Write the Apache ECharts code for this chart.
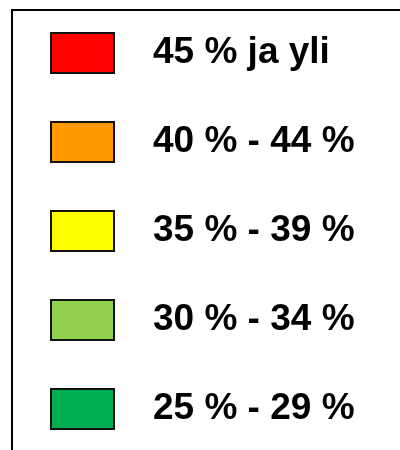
<!DOCTYPE html>
<html>
<head>
<meta charset="utf-8">
<script src="https://cdn.jsdelivr.net/npm/echarts@6/dist/echarts.min.js"></script>
<style>
  html, body { margin: 0; padding: 0; background: #fff; }
  #chart { width: 400px; height: 450px; }
</style>
</head>
<body>
<div id="chart"></div>
<script>
// Legend classes (share of votes)
const classLabels = ["45 % ja yli", "40 % - 44 %", "35 % - 39 %", "30 % - 34 %", "25 % - 29 %"];
const classColors = ["#ff0000", "#ff9900", "#ffff00", "#92d050", "#00b050"];

const chart = echarts.init(document.getElementById("chart"), null, { renderer: "canvas" });

chart.setOption({
  backgroundColor: "#fff",
  animation: false,
  grid: { show: false, left: 0, right: 0, top: 0, bottom: 0 },
  xAxis: { show: false, type: "value" },
  yAxis: { show: false, type: "value" },
  legend: {
    orient: "vertical",
    left: 50,
    top: 32,
    padding: 0,
    itemWidth: 63,
    itemHeight: 40,
    itemGap: 47,
    icon: "rect",
    selectedMode: false,
    itemStyle: { borderColor: "#111", borderWidth: 2, opacity: 1 },
    textStyle: {
      color: "#000",
      fontFamily: "'Liberation Sans', Arial, sans-serif",
      fontWeight: "bold",
      fontSize: 37,
      padding: [0, 0, 0, 34],
    },
    data: classLabels,
  },
  graphic: [
    {
      type: "rect",
      shape: { x: 12, y: 10, width: 420, height: 470 },
      style: { fill: "none", stroke: "#000", lineWidth: 2 },
      silent: true,
    },
  ],
  series: classLabels.map((name, i) => ({
    name,
    type: "scatter",
    data: [],
    itemStyle: { color: classColors[i], opacity: 1 },
  })),
});
</script>
</body>
</html>
